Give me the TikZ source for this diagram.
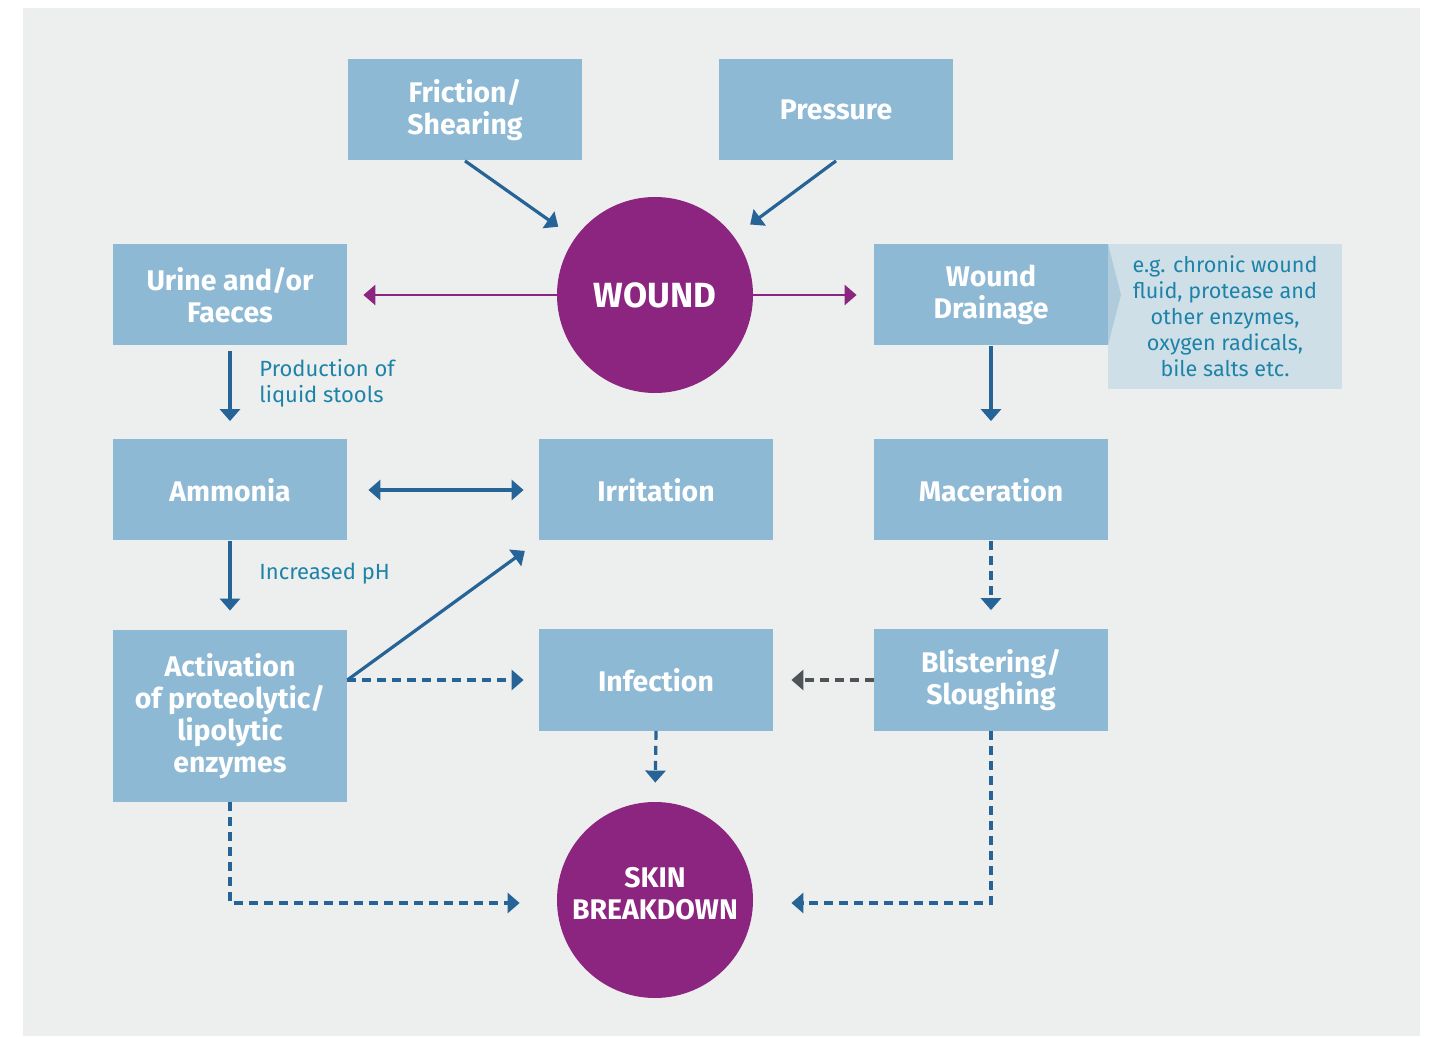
\documentclass[tikz,border=0pt]{standalone}
\usepackage{fontspec}
\setmainfont{Fira Sans}
\usetikzlibrary{arrows.meta,calc}
\definecolor{bgc}{HTML}{EDEEEE}
\definecolor{boxc}{HTML}{8DB9D5}
\definecolor{notec}{HTML}{CFDFE7}
\definecolor{chevc}{HTML}{AFCBDC}
\definecolor{purp}{HTML}{8B2580}
\definecolor{arrc}{HTML}{266497}
\definecolor{greyarr}{HTML}{4D5356}
\definecolor{labc}{HTML}{1D83A8}
\begin{document}
\begin{tikzpicture}[x=0.5pt,y=-0.5pt,
  factor/.style={fill=boxc, text=white, font=\bfseries\fontsize{14.2}{16}\selectfont,
    minimum width=117pt, minimum height=50.5pt, align=center, inner sep=2pt},
  hub/.style={circle, fill=purp, text=white, minimum size=98pt, inner sep=0pt, align=center},
  hubtext/.style={text=white, align=center, inner sep=0pt},
  lab/.style={text=labc, font=\fontsize{11}{13}\selectfont, align=left, anchor=west, inner sep=0pt},
  tip/.style={-{Triangle[length=6pt,width=10pt]}},
  flow/.style={tip, draw=arrc, line width=1.6pt},
  dflow/.style={flow, dash pattern=on 4.5pt off 3pt},
  spread/.style={tip, draw=purp, line width=1.3pt}]
  % page and panel
  \fill[white] (0,0) rectangle (1436,1037);
  \useasboundingbox (0,0) rectangle (1436,1037);
  \fill[bgc] (23,8) rectangle (1420,1036);

  % note attached to wound drainage
  \node[fill=notec, minimum width=117pt, minimum height=72.5pt, inner sep=0pt,
        text=labc, font=\fontsize{10.8}{13}\selectfont, align=center]
        (note) at (1225,316.5) {e.g. chronic wound\\fluid, protease and\\other enzymes,\\oxygen radicals,\\bile salts etc.};
  \fill[chevc] (1108,244) -- (1121,295) -- (1108,345) -- cycle;

  % boxes
  \node[factor] (fr)  at (465,110) {Friction/\\Shearing};
  \node[factor] (pr)  at (836,110) {Pressure};
  \node[factor] (ur)  at (230,295) {Urine and/or\\Faeces};
  \node[factor] (dr)  at (991,295) {Wound\\Drainage};
  \node[factor] (am)  at (230,490) {Ammonia};
  \node[factor] (irr) at (656,490) {Irritation};
  \node[factor] (mac) at (991,490) {Maceration};
  \node[factor, minimum height=86pt] (act) at (230,716) {Activation\\of proteolytic/\\lipolytic\\enzymes};
  \node[factor] (inf) at (656,680) {Infection};
  \node[factor] (bl)  at (991,680) {Blistering/\\Sloughing};

  % circles
  \node[hub, font=\bfseries\fontsize{17.5}{20}\selectfont] (wound) at (655,295) {WOUND};
  \node[hub] (skin) at (655,900) {};
  \node[hubtext, font=\bfseries\fontsize{14.2}{16}\selectfont] (skintext) at (655,894) {SKIN\\BREAKDOWN};

  % labels beside arrows
  \node[lab] (l1) at (259,383) {Production of\\liquid stools};
  \node[lab] (l2) at (259,574) {Increased pH};

  % causes of the wound
  \draw[flow, shorten >=10pt] (fr.south) -- (wound);
  \draw[flow, shorten >=10pt] (pr.south) -- (wound);

  % wound outputs
  \draw[spread, shorten >=8pt] (wound.west) -- (ur.east);
  \draw[spread, shorten >=8.5pt] (wound.east) -- (dr.west);

  % left column
  \draw[flow, shorten <=2.5pt, shorten >=9pt] (ur.south) -- (am.north);
  \draw[flow, shorten >=9.5pt] (am.south) -- (act.north);
  \draw[flow, {Triangle[length=6pt,width=10pt]}-{Triangle[length=6pt,width=10pt]},
        shorten <=10.5pt, shorten >=7.5pt] (am.east) -- (irr.west);
  \coordinate (actout) at (act.east |- inf.west);
  \draw[flow, shorten >=8.5pt] (actout) -- (irr.south west);
  \draw[dflow, shorten >=7.5pt] (actout) -- (inf.west);
  \draw[dflow, shorten >=18.5pt] (act.south) |- ($(skin.west)+(0,3)$);

  % right column
  \draw[flow, shorten >=9pt] (dr.south) -- (mac.north);
  \draw[dflow, shorten >=9.5pt] (mac.south) -- (bl.north);
  \draw[dflow, draw=greyarr, shorten >=9pt] (bl.west) -- (inf.east);
  \draw[dflow, shorten >=19pt] (bl.south) |- ($(skin.east)+(0,3)$);

  % centre
  \draw[dflow, shorten >=9.5pt] (inf.south) -- (skin.north);
\end{tikzpicture}
\end{document}
